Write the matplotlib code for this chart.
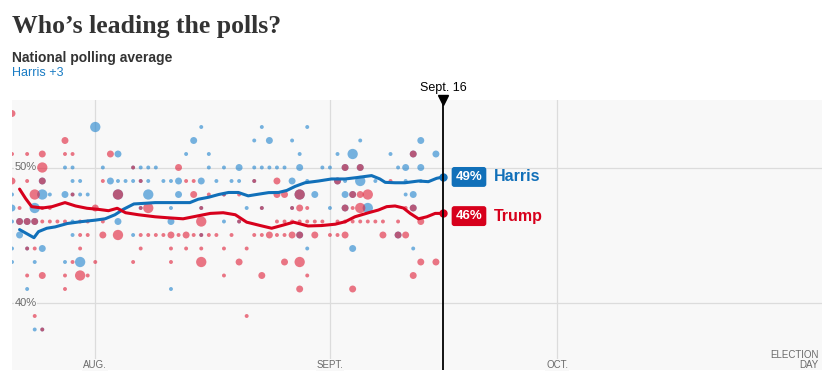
#!/usr/bin/env python3
"""National polling average chart: Harris vs Trump, with individual polls."""

import matplotlib

matplotlib.use("Agg")
import matplotlib.pyplot as plt

# x values are days relative to Aug. 1 (Jul. 21 = -11, Nov. 5 = 96)
X_START, X_END = -11, 96
TODAY = 46  # Sept. 16
MONTH_TICKS = [0, 31, 61]
MONTH_LABELS = ["AUG.", "SEPT.", "OCT."]

# individual polls: day, pct, weight (1 small, 2 medium, 3 large)
harris_day = [0, 14, 22, 28,
              13, 21, 23, 26, 35, 43,
              3, 12, 15, 27, 32, 34, 39, 42, 45,
              -4, -3, 1, 5, 6, 7, 8, 15, 17, 19, 21, 22, 23, 24, 25, 27, 30, 31, 33, 35, 40, 41, 43,
              -7, -3, -2, 2, 3, 4, 5, 6, 7, 9, 10, 11, 14, 16, 18, 19, 21, 26, 28, 32, 33, 35, 37, 41, 43,
              -11, -7, -6, -4, -3, -2, -1, 3, 7, 11, 17, 27, 29, 33, 34, 41, 42,
              -11, -8, 6, 10, 14, 20, 22, 26, 31, 33, 36, 42,
              -11, -10, -9, -8, -3, 3, 10, 17, 19,
              -10, -3, 5, 14, 27, 40,
              -11, -9, -7, 28, 34, 42,
              -11, -8, -4, -2,
              -9, 10,
              -8, -7]
harris_pct = [53] * 4 + [52] * 6 + [51] * 9 + [50] * 23 + [49] * 25 + [48] * 17 + [47] * 12 \
    + [46] * 9 + [45] * 6 + [44] * 6 + [43] * 4 + [41] * 2 + [38] * 2
harris_wt = [3, 1, 1, 1,
             2, 1, 2, 1, 1, 2,
             2, 1, 1, 1, 1, 3, 1, 2, 2,
             1, 1, 1, 1, 1, 1, 1, 1, 1, 2, 1, 1, 1, 1, 1, 2, 1, 1, 2, 2, 1, 2, 2,
             2, 1, 1, 2, 1, 1, 1, 1, 1, 1, 1, 2, 2, 1, 1, 1, 1, 2, 1, 2, 1, 3, 1, 1, 1,
             1, 3, 1, 2, 1, 1, 1, 3, 3, 2, 1, 3, 2, 2, 2, 1, 2,
             2, 3, 1, 1, 1, 1, 1, 1, 1, 2, 3, 2,
             1, 2, 2, 2, 1, 2, 2, 1, 1,
             2, 1, 1, 1, 2, 2,
             1, 1, 2, 1, 2, 1,
             1, 1, 1, 3,
             1, 1,
             1, 1]

trump_day = [-11,
             -4,
             -11, -9, -7, -4, -3, 2, 42,
             -7, 5, 11, 33, 35,
             -11, -9, -7, 1, 6, 12, 13, 21, 24, 32, 39,
             -8, -3, 3, 13, 15, 17, 19, 24, 25, 27, 34, 35, 36,
             -10, -7, -6, 0, 6, 7, 14, 22, 26, 27, 28, 33, 34, 35, 41, 42,
             -10, -9, -8, -7, -6, -5, -4, -2, -1, 1, 14, 19, 24, 25, 26, 27, 28, 29, 30, 32, 33,
             34, 35, 36, 37, 38, 40, 43,
             -2, -1, 1, 3, 6, 7, 8, 9, 10, 11, 12, 13, 14, 15, 16, 18, 21, 22, 23, 24, 25, 26,
             27, 29, 31, 32, 33, 38, 40, 41,
             -9, -8, -2, 6, 10, 12, 14, 17, 20,
             -3, 0, 5, 10, 14, 19, 25, 27, 43, 45,
             -9, -7, -4, -2, -1, 17, 22, 28, 42,
             -4, 27, 34,
             -8, 20,
             -7]
trump_pct = [54] + [52] + [51] * 7 + [50] * 5 + [49] * 11 + [48] * 13 + [47] * 16 + [46] * 28 \
    + [45] * 30 + [44] * 9 + [43] * 10 + [42] * 9 + [41] * 3 + [39] * 2 + [38]
trump_wt = [2,
            2,
            1, 1, 2, 1, 1, 2, 2,
            3, 1, 2, 2, 2,
            2, 1, 2, 1, 1, 1, 1, 1, 2, 2, 1,
            3, 1, 3, 2, 1, 1, 1, 2, 2, 3, 2, 2, 3,
            1, 1, 1, 2, 1, 3, 1, 1, 1, 2, 1, 2, 1, 3, 1, 2,
            2, 2, 2, 1, 1, 1, 1, 1, 1, 1, 3, 1, 1, 1, 1, 1, 1, 1, 1, 1, 1,
            1, 1, 1, 1, 1, 1, 2,
            1, 1, 2, 3, 1, 1, 1, 1, 2, 1, 2, 1, 1, 1, 1, 1, 1, 1, 2, 1, 1, 2,
            2, 2, 1, 1, 2, 2, 2, 2,
            1, 1, 1, 1, 1, 1, 1, 1, 1,
            1, 1, 1, 1, 3, 2, 2, 3, 2, 2,
            1, 2, 1, 3, 1, 1, 2, 1, 2,
            1, 2, 2,
            1, 1,
            1]

# polling averages
harris_avg_day = [-10, -8.1, -7.5, -6.4, -5.3, -3.7, -2, 0, 1.3, 2.6, 3.7, 5.1, 6.6, 7.9, 9.9,
                  12.5, 13.6, 15, 16.3, 17.6, 18.9, 20.2, 21.3, 22.9, 24.2, 25.3, 26.4, 27.7,
                  29.5, 31.2, 33, 34.5, 36.5, 37.6, 38.3, 39.6, 40.9, 42.7, 44, 45.1, 46]
harris_avg = [45.4, 44.8, 45.25, 45.5, 45.6, 45.85, 45.98, 46.1, 46.2, 46.5, 46.9, 47.3, 47.35,
              47.4, 47.4, 47.4, 47.65, 47.8, 48.0, 48.15, 48.15, 47.9, 48.0, 48.14, 48.15, 48.3,
              48.6, 48.87, 49.0, 49.15, 49.15, 49.25, 49.4, 49.15, 48.9, 48.87, 48.87, 49.0,
              48.95, 49.2, 49.3]
trump_avg_day = [-10, -9.2, -8.4, -7, -5.7, -4, -2.6, -1.1, 0.4, 1.75, 2.9, 4, 5.7, 7.9, 9.5,
                 11.6, 13.4, 15.2, 16.9, 18.5, 20, 21.8, 23.3, 24.6, 26.2, 28.1, 29.9, 31.7, 33,
                 34.3, 36.1, 37.4, 38.5, 39.6, 40.7, 41.6, 42.7, 43.8, 44.9, 46]
trump_avg = [48.4, 47.7, 47.1, 47.0, 47.1, 47.4, 47.15, 46.98, 46.9, 46.8, 46.98, 46.65, 46.5,
             46.35, 46.28, 46.2, 46.4, 46.6, 46.65, 46.5, 45.95, 45.7, 45.5, 45.7, 45.95, 45.67,
             45.7, 45.8, 45.98, 46.35, 46.65, 46.85, 47.1, 47.15, 47.0, 46.6, 46.2, 46.35, 46.6,
             46.6]

END_NAMES = ["Harris", "Trump"]
END_VALUES = [49, 46]
END_LABEL_Y = [49.3, 46.4]

HARRIS = "#1170b9"
TRUMP = "#d7001c"
HARRIS_DOT = "#1e82cd"
TRUMP_DOT = "#e01e37"
BG = "#f8f8f8"
GRID = "#dcdcdc"
LABEL = "#6b6b6b"
SANS = ["Liberation Sans", "DejaVu Sans"]
DOT_SIZE = {1: 8, 2: 25, 3: 55}

plt.rcParams["font.family"] = SANS

fig = plt.figure(figsize=(8.37, 3.89), dpi=100)
W, H = 837, 389
ax = fig.add_axes([12 / W, 1 - 370 / H, 810 / W, 270 / H])
ax.set_xlim(X_START, X_END)
ax.set_ylim(35, 55)
ax.set_facecolor(BG)
for spine in ax.spines.values():
    spine.set_visible(False)
ax.set_xticks([])
ax.set_yticks([])

for y in (40, 50):
    ax.axhline(y, color=GRID, lw=0.9, zorder=0)
for x in MONTH_TICKS:
    ax.axvline(x, color=GRID, lw=0.9, zorder=0)

# individual polls
ax.scatter(harris_day, harris_pct, s=[DOT_SIZE[w] for w in harris_wt], color=HARRIS_DOT,
           alpha=0.6, lw=0, zorder=2)
ax.scatter(trump_day, trump_pct, s=[DOT_SIZE[w] for w in trump_wt], color=TRUMP_DOT,
           alpha=0.6, lw=0, zorder=2)

# averages
ax.plot(harris_avg_day, harris_avg, color=HARRIS, lw=2.2, zorder=4, solid_capstyle="round")
ax.plot(trump_avg_day, trump_avg, color=TRUMP, lw=2.2, zorder=4, solid_capstyle="round")
ax.plot(harris_avg_day[-1], harris_avg[-1], "o", color=HARRIS, ms=5, zorder=5)
ax.plot(trump_avg_day[-1], trump_avg[-1], "o", color=TRUMP, ms=5, zorder=5)

# today marker
ax.axvline(TODAY, color="black", lw=1.3, zorder=6)
xtr = ax.get_xaxis_transform()
ax.plot(TODAY, 1.0, marker="v", color="black", ms=7, transform=xtr, clip_on=False, zorder=7)
ax.text(TODAY, 1.0 + 12 / 270, "Sept. 16", transform=xtr, ha="center", va="center",
        fontsize=9, color="black")

# y labels
for y in (40, 50):
    ax.text(-10.7, y, f"{y}%", ha="left", va="center", fontsize=8, color=LABEL, zorder=1,
            bbox=dict(boxstyle="square,pad=0.05", fc=BG, ec="none"))

# x labels
for x, lab in zip(MONTH_TICKS, MONTH_LABELS):
    ax.text(x, 5 / 270, lab, transform=xtr, ha="center", va="center", fontsize=7, color=LABEL,
            bbox=dict(boxstyle="square,pad=0.1", fc=BG, ec="none"), zorder=1)
ax.text(95.6, 10 / 270, "ELECTION\nDAY", transform=xtr, ha="right", va="center", fontsize=7,
        color=LABEL, linespacing=1.0)

# end labels
for name, val, yy, col in zip(END_NAMES, END_VALUES, END_LABEL_Y, [HARRIS, TRUMP]):
    ax.text(47.6, yy, f"{val}%", ha="left", va="center", fontsize=9.5, fontweight="bold",
            color="white", zorder=8,
            bbox=dict(boxstyle="round,pad=0.3,rounding_size=0.2", fc=col, ec="none"))
    ax.text(52.6, yy, name, ha="left", va="center", fontsize=11.5, fontweight="bold", color=col,
            zorder=8)

# headings
fig.text(12 / W, 1 - 33.3 / H, "Who’s leading the polls?", ha="left", va="baseline",
         fontsize=18.5, fontweight="bold", color="#333333",
         family=["Liberation Serif", "DejaVu Serif"])
fig.text(12 / W, 1 - 61.7 / H, "National polling average", ha="left", va="baseline",
         fontsize=10, fontweight="bold", color="#333333")
fig.text(12 / W, 1 - 76 / H, "Harris +3", ha="left", va="baseline", fontsize=9,
         color="#1a7cc4")

fig.savefig("out.png", dpi=100, facecolor="white")
